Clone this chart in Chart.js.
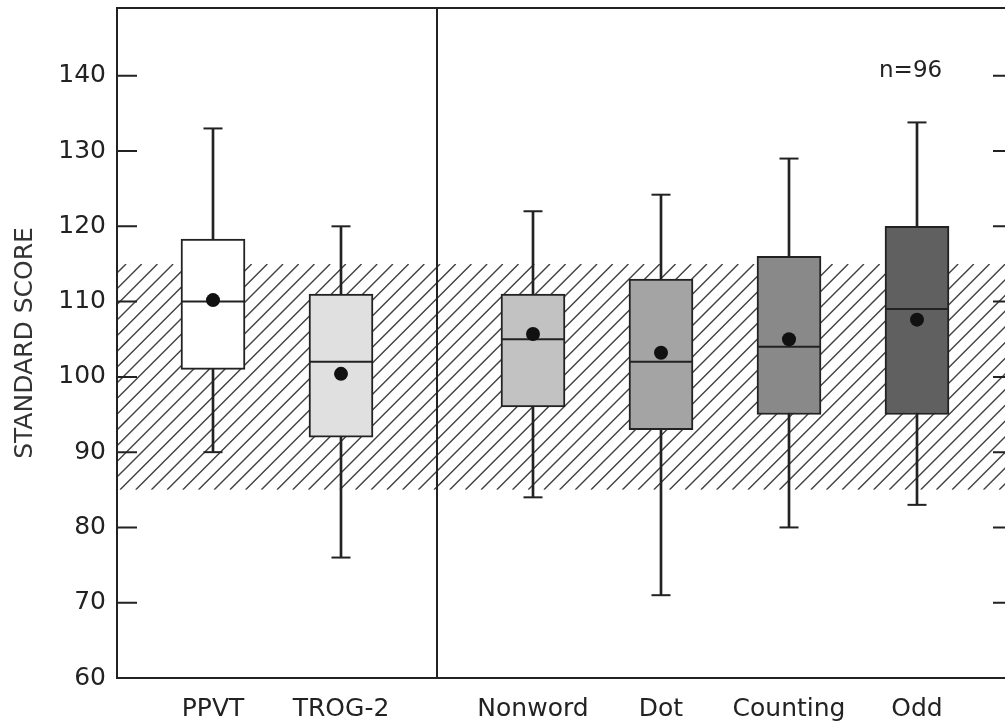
<!DOCTYPE html>
<html><head><meta charset="utf-8">
<script src="https://cdn.jsdelivr.net/npm/chart.js@4"></script>
<style>
html,body{margin:0;padding:0;overflow:hidden;background:#fff;width:1005px;height:726px}
#wrap{width:1030px;height:726px}
canvas{display:block}
</style></head>
<body><div id="wrap"><canvas id="c" width="1030" height="726"></canvas></div>
<script>
// ---- data ----
const categories = ['PPVT', 'TROG-2', 'Nonword', 'Dot', 'Counting', 'Odd'];
const categoryX = [1, 2, 3.5, 4.5, 5.5, 6.5];
const whiskerLow = [90, 76, 84, 71, 80, 83];
const q1 = [101, 92, 96, 93, 95, 95];
const medians = [110, 102, 105, 102, 104, 109];
const q3 = [118.3, 111, 111, 113, 116, 120];
const whiskerHigh = [133, 120, 122, 124.2, 129, 133.8];
const means = [110.2, 100.4, 105.7, 103.2, 105, 107.6];
const normalBand = [85, 115];
const yTicks = [60, 70, 80, 90, 100, 110, 120, 130, 140];
const yMin = 60, yMax = 149;
const xMin = 0.25, xMax = 7.25;
const dividerX = 2.75;
const sampleNote = 'n=96';
const sampleNoteAt = [6.45, 140.6];
const boxColors = ['#ffffff', '#e0e0e0', '#c2c2c3', '#a4a4a5', '#89898a', '#606061'];

const INK = '#222';
const FONT = 'DejaVu Sans';

const deco = {
  id: 'deco',
  beforeDatasetsDraw(chart) {
    const {ctx, chartArea: a, scales: {y}} = chart;
    const yt = y.getPixelForValue(normalBand[1]);
    const yb = y.getPixelForValue(normalBand[0]);
    const h = yb - yt;
    const step = 15.7;
    ctx.save();
    ctx.beginPath();
    ctx.rect(a.left, yt, a.right - a.left, h);
    ctx.clip();
    ctx.strokeStyle = '#444';
    ctx.lineWidth = 1.4;
    ctx.beginPath();
    for (let x0 = a.left + 3 - Math.ceil(h / step) * step; x0 < a.right; x0 += step) {
      ctx.moveTo(x0, yb);
      ctx.lineTo(x0 + h, yt);
    }
    ctx.stroke();
    ctx.restore();
  },
  afterDatasetsDraw(chart) {
    const {ctx, chartArea: a, scales: {x, y}} = chart;
    ctx.save();
    ctx.strokeStyle = INK;
    ctx.lineWidth = 2;
    ctx.strokeRect(a.left, a.top, a.right - a.left, a.bottom - a.top);
    const dx = x.getPixelForValue(dividerX);
    ctx.beginPath();
    ctx.moveTo(dx, a.top); ctx.lineTo(dx, a.bottom);
    yTicks.forEach(v => {
      const py = y.getPixelForValue(v);
      ctx.moveTo(a.left, py); ctx.lineTo(a.left + 20, py);
      ctx.moveTo(a.right - 20, py); ctx.lineTo(a.right, py);
    });
    ctx.stroke();
    ctx.fillStyle = INK;
    ctx.font = '23px "' + FONT + '"';
    ctx.textAlign = 'center';
    ctx.textBaseline = 'middle';
    ctx.fillText(sampleNote, x.getPixelForValue(sampleNoteAt[0]), y.getPixelForValue(sampleNoteAt[1]));
    ctx.restore();
  }
};

new Chart(document.getElementById('c'), {
  type: 'bar',
  data: {
    datasets: [
      {
        type: 'bar', label: 'whiskers', order: 5, grouped: false,
        data: categoryX.map((x, i) => ({x, y: [whiskerLow[i], whiskerHigh[i]]})),
        backgroundColor: INK, barThickness: 2, borderWidth: 0
      },
      {
        type: 'bar', label: 'boxes', order: 4, grouped: false,
        data: categoryX.map((x, i) => ({x, y: [q1[i], q3[i]]})),
        backgroundColor: boxColors, borderColor: INK, borderWidth: 2, borderSkipped: false,
        barThickness: 64
      },
      {
        type: 'scatter', label: 'caps', order: 3,
        data: categoryX.flatMap((x, i) => [{x, y: whiskerLow[i]}, {x, y: whiskerHigh[i]}]),
        pointStyle: 'line', pointRadius: 9.5, pointBorderWidth: 2, pointBorderColor: INK
      },
      {
        type: 'scatter', label: 'medians', order: 2,
        data: categoryX.map((x, i) => ({x, y: medians[i]})),
        pointStyle: 'line', pointRadius: 31, pointBorderWidth: 2, pointBorderColor: INK
      },
      {
        type: 'scatter', label: 'means', order: 1,
        data: categoryX.map((x, i) => ({x, y: means[i]})),
        pointStyle: 'circle', pointRadius: 7, pointBorderWidth: 0, pointBackgroundColor: '#111'
      }
    ]
  },
  options: {
    responsive: false,
    animation: false,
    events: [],
    layout: {autoPadding: false, padding: {top: 8, right: 17, bottom: 0, left: 0}},
    plugins: {legend: {display: false}, tooltip: {enabled: false}},
    scales: {
      x: {
        type: 'linear', min: xMin, max: xMax, offset: false,
        grid: {display: false, drawTicks: false}, border: {display: false},
        afterBuildTicks: s => { s.ticks = categoryX.map(v => ({value: v})); },
        ticks: {
          autoSkip: false, maxRotation: 0, padding: 16, color: INK,
          font: {family: FONT, size: 25},
          callback: v => { const i = categoryX.indexOf(v); return i >= 0 ? categories[i] : ''; }
        },
        afterFit: s => { s.height = 48; s.paddingLeft = 0; s.paddingRight = 0; }
      },
      y: {
        type: 'linear', min: yMin, max: yMax,
        grid: {display: false, drawTicks: false}, border: {display: false},
        afterBuildTicks: s => { s.ticks = yTicks.map(v => ({value: v})); },
        ticks: {padding: 11, color: INK, font: {family: FONT, size: 25}},
        title: {display: true, text: 'STANDARD SCORE', color: '#333',
                font: {family: FONT, size: 25}, padding: {top: 10, bottom: 0}},
        afterFit: s => { s.width = 117; s.paddingTop = 0; s.paddingBottom = 0; }
      }
    }
  },
  plugins: [deco]
});
</script>
</body></html>
